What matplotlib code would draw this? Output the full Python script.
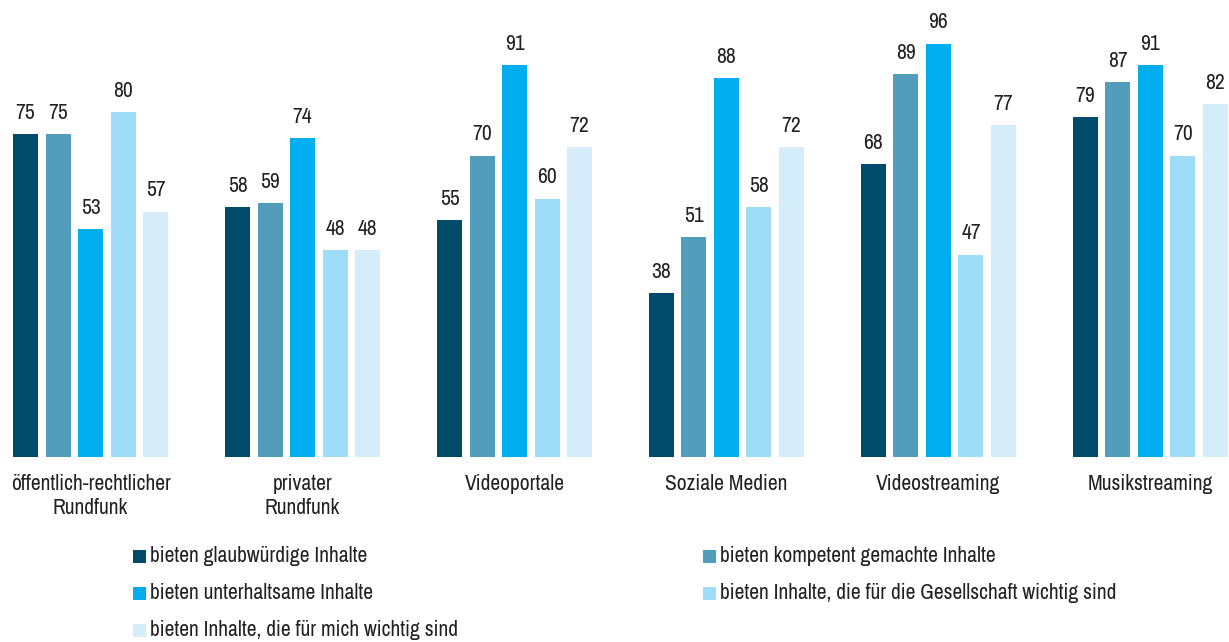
import matplotlib
matplotlib.use("Agg")
import matplotlib.pyplot as plt
from matplotlib.patches import Rectangle
from matplotlib import font_manager
import numpy as np

names = sorted(set(f.name for f in font_manager.fontManager.ttflist))
cond = [n for n in names if ('Narrow' in n or 'Condensed' in n or 'Cond' in n)]
if cond:
    fam = cond[0]
    fs = 15.5
else:
    fam = "Roboto"
    fs = 12.8
plt.rcParams['font.family'] = [fam, 'DejaVu Sans']

categories = ["öffentlich-rechtlicher\nRundfunk", "privater\nRundfunk", "Videoportale",
              "Soziale Medien", "Videostreaming", "Musikstreaming"]
series_names = ["bieten glaubwürdige Inhalte",
                "bieten kompetent gemachte Inhalte",
                "bieten unterhaltsame Inhalte",
                "bieten Inhalte, die für die Gesellschaft wichtig sind",
                "bieten Inhalte, die für mich wichtig sind"]
glaubwuerdig = [75, 58, 55, 38, 68, 79]
kompetent = [75, 59, 70, 51, 89, 87]
unterhaltsam = [53, 74, 91, 88, 96, 91]
gesellschaft = [80, 48, 60, 58, 47, 70]
fuer_mich = [57, 48, 72, 72, 77, 82]
series = [glaubwuerdig, kompetent, unterhaltsam, gesellschaft, fuer_mich]
colors = ["#004B6B", "#529DBB", "#00AEEF", "#9FDCF7", "#D5EDFA"]

W, H = 1229, 642
fig = plt.figure(figsize=(W/100, H/100), dpi=100)
ax = fig.add_axes([13/W, (H-457)/H, 1215/W, 430.7/H])

x = np.arange(len(categories))
step = 32.5/212
bw = 25/212
for i, (vals, c) in enumerate(zip(series, colors)):
    pos = x + (i-2)*step
    ax.bar(pos, vals, width=bw, color=c, edgecolor='none')
    for p, v in zip(pos, vals):
        ax.annotate(str(v), (p, v), xytext=(0, 8), textcoords='offset points',
                    ha='center', va='bottom', fontsize=fs, color='#222222')

ax.set_xlim(-0.366, 5.366)
ax.set_ylim(0, 100)
ax.set_xticks(x)
ax.set_xticklabels(categories, fontsize=fs, color='#222222', linespacing=1.3)
ax.tick_params(axis='x', length=0, pad=12)
ax.set_yticks([])
for s in ax.spines.values():
    s.set_visible(False)

# legend
legend_pos = [(133, 556), (703, 556), (133, 593), (703, 593), (133, 630)]
for (lx, ly), name, c in zip(legend_pos, series_names, colors):
    fig.add_artist(Rectangle((lx/W, (H-ly-6.5)/H), 13/W, 13/H, transform=fig.transFigure,
                             facecolor=c, edgecolor='none'))
    fig.text((lx+17)/W, (H-ly)/H, name, ha='left', va='center', fontsize=fs, color='#222222')

fig.savefig("out.png", dpi=100)
